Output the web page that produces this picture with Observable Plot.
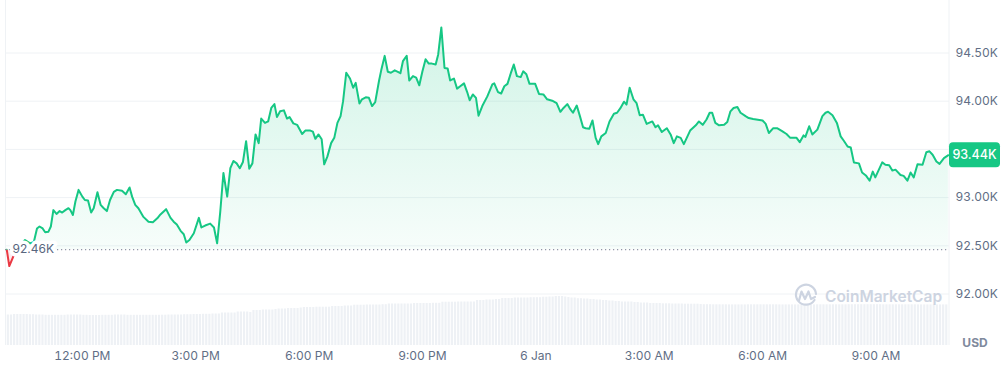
<!DOCTYPE html>
<html><head><meta charset="utf-8">
<script src="https://cdn.jsdelivr.net/npm/d3@7"></script>
<script src="https://cdn.jsdelivr.net/npm/@observablehq/plot@0.6"></script>
<style>
body{margin:0;background:#fff;font-family:Inter,sans-serif}
#wrap{position:relative;width:1004px;height:370px;overflow:hidden}
#wrap svg{position:absolute;left:0;top:0}
</style></head><body><div id="wrap"></div>
<script>
// minutes relative to 5 Jan 12:00 PM
const minutes = [
-120,-116,-108,-102,-96,-91,-83,-77,-72,-68,
-63,-59,-54,-50,-46,-41,-36,-32,-27,-22,
-19,-15,-11,-6,0,4,9,14,18,24,
29,34,39,44,50,55,63,69,75,79,
84,89,97,105,112,119,124,133,140,145,
150,156,161,165,170,177,185,189,195,203,
209,214,219,224,230,235,240,245,250,255,
260,265,270,275,280,284,290,295,300,305,
309,314,320,325,329,335,341,349,354,362,
366,370,375,380,384,389,395,400,405,410,
414,419,425,430,434,440,444,450,455,460,
465,471,475,480,485,490,496,501,505,509,
515,519,525,530,535,540,545,550,555,561,
565,570,575,580,584,590,595,600,606,611,
615,620,625,629,635,643,651,654,660,665,
670,675,681,685,690,696,700,705,710,719,
725,732,738,746,753,759,764,770,775,779,
785,790,795,799,805,810,815,819,824,831,
837,844,849,854,860,864,869,875,880,885,
890,896,905,910,914,920,928,934,939,944,
950,955,965,974,979,985,991,996,1000,1005,
1011,1019,1024,1029,1034,1040,1045,1053,1058,1065,
1070,1080,1085,1090,1097,1103,1111,1118,1124,1134,
1139,1145,1148,1154,1159,1167,1175,1180,1184,1191,
1198,1204,1209,1215,1220,1225,1233,1238,1244,1250,
1255,1259,1270,1275,1281,1286,1291,1299,1304,1310,
1315,1320,1326,1334,1340,1345,1350,1356,1361,1368,
1375
];
const prices = [
92460,92290,92415,92490,92525,92560,92525,92540,92680,92700,
92680,92640,92645,92700,92870,92830,92860,92845,92870,92890,
92870,92820,92960,93080,93010,92975,92970,92845,92890,93055,
92925,92890,92860,92975,93060,93080,93070,93035,93105,93010,
92925,92890,92800,92750,92745,92785,92825,92880,92790,92750,
92720,92655,92620,92535,92560,92630,92790,92690,92710,92730,
92690,92525,92855,93255,93010,93305,93380,93355,93305,93370,
93585,93300,93355,93655,93565,93820,93775,93790,93930,93970,
93835,93895,93905,93820,93835,93770,93755,93660,93695,93695,
93685,93610,93655,93605,93345,93425,93565,93620,93775,93845,
94000,94295,94235,94140,94190,93975,94020,94040,94035,93950,
93990,94210,94335,94470,94305,94295,94320,94305,94290,94415,
94470,94215,94260,94245,94165,94310,94435,94390,94390,94380,
94485,94765,94345,94340,94215,94235,94130,94155,94185,94095,
94010,94070,94035,93850,93950,94050,94175,94185,94095,94080,
94155,94180,94305,94380,94260,94250,94310,94280,94180,94180,
94075,94070,94020,94005,93980,93890,93930,93970,93915,93880,
93955,93845,93730,93720,93715,93800,93620,93555,93635,93670,
93790,93870,93880,93925,93995,93965,94140,94020,93980,93855,
93860,93765,93790,93730,93750,93680,93720,93655,93565,93635,
93620,93555,93695,93750,93790,93755,93810,93880,93880,93775,
93750,93755,93785,93895,93930,93940,93880,93845,93825,93815,
93810,93800,93765,93670,93720,93720,93690,93660,93620,93620,
93575,93645,93630,93740,93655,93705,93845,93880,93890,93855,
93775,93635,93590,93530,93520,93365,93355,93260,93230,93175,
93270,93210,93365,93340,93335,93280,93290,93235,93225,93175,
93260,93210,93345,93340,93470,93480,93445,93375,93350,93410,
93440
];
// relative volume, one bar per 5 minutes starting at 10:00 AM
const volumes = [
30.5,30.5,31,31,31,
31,31,30.8,30.8,30.5,30.5,30.5,30.2,30.2,30.2,30.2,30.2,30.2,30.2,30.5,30.5,30.5,30.5,30.5,
30.2,30.2,30,30,30,30,30.2,30.2,30.2,30.2,30.5,30.5,30.5,30.5,30.2,30.2,30.2,30.2,30.2,30.2,30.2,30.2,30.2,30.2,30.2,
30.3,30.3,30.5,30.5,30.5,30.5,30.5,30.8,30.8,30.8,
31,31,31,31.2,31.2,31.2,31.5,31.5,31.5,
32.5,32.5,32.5,32.5,32.5,
33.5,33.5,33.5,33.5,33,
35,35,35,35.5,35.5,35.5,35.5,36,
36.5,36.5,36.5,37,37,37,37,37.5,
38,38,38,38,38.3,38.3,38.3,38.3,38.3,
39,39,39,39,39.5,39.5,39.5,
40.3,40.3,40.3,40.3,40.5,40.5,40.5,40.5,40.5,40.8,40.8,
41.5,41.5,41.5,41.5,41.5,41.5,41.5,41.5,
42,42,42,42,42,42,42.2,42.2,42.2,
43.3,43.3,43.3,43.3,43.3,43.5,43.5,43.5,43.5,43.5,43.5,
45,45,45,45.5,45.5,45.5,46,46,
47,47,47,47,47.5,47.5,47.5,47.5,47.5,47.8,47.8,47.8,47.8,
48.3,48.3,48.5,48.5,49,49,49,48.5,48,47.5,47.5,
46.8,46.8,46.5,46.5,46,46,45.5,45.5,
45,45,44.5,44.5,44,44,43.5,43.5,43.5,43.5,
43,43,42.5,42.5,42.5,42,42,42,42,
41.7,41.7,41.7,41.5,41.5,41.5,41.5,41.3,41.3,41.3,41.3,41.3,41,
40.8,40.8,40.8,40.7,40.7,40.7,
40.7,40.7,40.6,40.6,40.6,40.6,
40.6,40.6,40.7,40.7,40.7,40.7,
40.7,40.7,40.7,40.7,40.7,40.7,
40.6,40.6,40.6,40.6,40.6,40.6,
40.6,40.6,40.6,40.6,40.6,40.6,
40.7,40.7,40.7,40.7,40.7,40.7,
40.7,40.7,40.7,40.7,40.8,40.8,
40.8,40.8,40.8,40.8,40.8,40.8,
40.8,40.8,40.8,40.7,40.7,40.7,
40.7,40.7,40.7,40.7,40.7,40.7,
40.7,40.7,40.6,40.6,40.6,40.6,
40.6,40.6,40.6,40.6,40.6,40.6
];
const volStartMinute = -120, volStepMinutes = 5;
const openPrice = 92460;
const lastPrice = 93440;
const gridTicks = [92000, 92500, 93000, 93500, 94000, 94500];
const labelTicks = [92000, 92500, 93000, 94000, 94500]; // 93.50K is covered by the price badge
const xTickMinutes = [0, 180, 360, 540, 720, 900, 1080, 1260];
const xTickLabels = ["12:00 PM","3:00 PM","6:00 PM","9:00 PM","6 Jan","3:00 AM","6:00 AM","9:00 AM"];
const currencyLabel = "USD";
const brand = "CoinMarketCap";

const UP = "#16c784", DOWN = "#ea3943", TXT = "#616e85", GRID = "#eff2f5";
const NOON = Date.UTC(2025, 0, 5, 12);
const toDate = m => new Date(NOON + m * 60000);
const series = minutes.map((m, i) => ({date: toDate(m), price: prices[i]}));
const bars = volumes.map((v, i) => ({
  start: toDate(volStartMinute + volStepMinutes * i),
  end: toDate(volStartMinute + volStepMinutes * (i + 1)),
  vol: v
}));
const xDomain = [toDate(-122), toDate(1376)];
const xRange = [5, 948.5];
const xTicks = xTickMinutes.map(toDate);
const fmtK = d => (d / 1000).toFixed(2) + "K";

const wrap = document.getElementById("wrap");

const volPlot = Plot.plot({
  width: 1004, height: 370, margin: 0,
  style: {background: "transparent"},
  x: {type: "utc", domain: xDomain, range: xRange, axis: null},
  y: {domain: [0, 60], range: [345, 285], axis: null},
  marks: [
    Plot.rectY(bars, {x1: "start", x2: "end", y: "vol", fill: "#eef1f5", insetLeft: 0.5, insetRight: 0.5})
  ]
});
wrap.appendChild(volPlot);

const pricePlot = Plot.plot({
  width: 1004, height: 370,
  marginLeft: 5, marginRight: 55, marginTop: 0, marginBottom: 25,
  style: {background: "transparent", fontFamily: "Inter, sans-serif", fontSize: "12px", color: TXT, overflow: "visible"},
  x: {type: "utc", domain: xDomain, range: xRange},
  y: {domain: [92000, 94500], range: [293.5, 52.5]},
  marks: [
    Plot.gridY(gridTicks, {stroke: GRID, strokeOpacity: 1}),
    Plot.ruleX(xDomain, {stroke: GRID, strokeOpacity: 1}),
    Plot.areaY(series, {x: "date", y1: openPrice, y2: "price", fill: UP, fillOpacity: 0.2}),
    Plot.areaY(series, {x: "date", y1: openPrice, y2: "price", fill: DOWN, fillOpacity: 0.1}),
    Plot.ruleY([openPrice], {stroke: "#8f98a8", strokeDasharray: "1.2,2.8", strokeWidth: 1.2}),
    Plot.line(series, {x: "date", y: "price", stroke: UP, strokeWidth: 2}),
    Plot.line(series, {x: "date", y: "price", stroke: DOWN, strokeWidth: 2}),
    Plot.text([openPrice], {frameAnchor: "left", y: d => d, dx: 7, text: fmtK, textAnchor: "start",
      fill: "#58667e", stroke: "white", strokeWidth: 7, fontSize: 12}),
    Plot.axisY(labelTicks, {anchor: "right", tickSize: 0, tickPadding: 6, tickFormat: fmtK, label: null, fontSize: 12}),
    Plot.axisX(xTicks, {anchor: "bottom", tickSize: 0, tickPadding: 6, label: null, fontSize: 12,
      tickFormat: d => xTickLabels[xTicks.findIndex(t => +t === +d)]})
  ]
});
wrap.appendChild(pricePlot);

// gradient, colour clipping, badges, watermark
const svg = d3.select(pricePlot);
const defs = svg.insert("defs", ":first-child");
const grad = defs.append("linearGradient").attr("id", "upGrad").attr("x1", 0).attr("y1", 0).attr("x2", 0).attr("y2", 1);
grad.append("stop").attr("offset", "0%").attr("stop-color", UP).attr("stop-opacity", 1);
grad.append("stop").attr("offset", "100%").attr("stop-color", UP).attr("stop-opacity", 0.12);
const ys = pricePlot.scale("y");
const yb = ys.apply(openPrice);
defs.append("clipPath").attr("id", "clipUp").append("rect").attr("x", -10).attr("y", -100).attr("width", 1100).attr("height", yb + 100);
defs.append("clipPath").attr("id", "clipDown").append("rect").attr("x", -10).attr("y", yb).attr("width", 1100).attr("height", 400);
const areas = svg.selectAll('g[aria-label="area"]').nodes();
const lines = svg.selectAll('g[aria-label="line"]').nodes();
if (areas.length === 2) {
  d3.select(areas[0]).attr("clip-path", "url(#clipUp)").selectAll("path").attr("fill", "url(#upGrad)");
  d3.select(areas[1]).attr("clip-path", "url(#clipDown)");
}
if (lines.length === 2) {
  d3.select(lines[0]).attr("clip-path", "url(#clipUp)");
  d3.select(lines[1]).attr("clip-path", "url(#clipDown)");
}
svg.selectAll('g[aria-label="line"] path').attr("stroke-linejoin", "round").attr("stroke-linecap", "round");

// last price badge
const yl = ys.apply(lastPrice);
const badge = svg.append("g");
badge.append("rect").attr("x", 949).attr("y", yl - 12.5).attr("width", 51).attr("height", 25).attr("rx", 4).attr("fill", UP);
badge.append("text").attr("x", 974.5).attr("y", yl).attr("dy", "0.35em").attr("text-anchor", "middle")
  .attr("fill", "white").attr("font-size", 12.5).attr("font-weight", 500).text(fmtK(lastPrice));

// currency
svg.append("text").attr("x", 975).attr("y", 343).attr("dy", "0.35em").attr("text-anchor", "middle")
  .attr("fill", "#808a9d").attr("font-size", 12).attr("font-weight", 700).text(currencyLabel);

// watermark
const wm = svg.append("g").attr("fill", "none").attr("stroke", "#cdd4e1").attr("stroke-width", 2.2).attr("stroke-linecap", "round").attr("stroke-linejoin", "round");
wm.append("path").attr("d", "M 814.5 300 A 10 10 0 1 1 816 294");
wm.append("path").attr("d", "M 799 300.5 L 801.5 291.5 L 805 299 L 808.5 291.5 L 811 299 L 815 297");
svg.append("text").attr("x", 825).attr("y", 297).attr("dy", "0.35em").attr("text-anchor", "start").attr("fill", "#cdd4e1")
  .attr("font-size", 15.5).attr("font-weight", 600).text(brand);
</script>
</body></html>
